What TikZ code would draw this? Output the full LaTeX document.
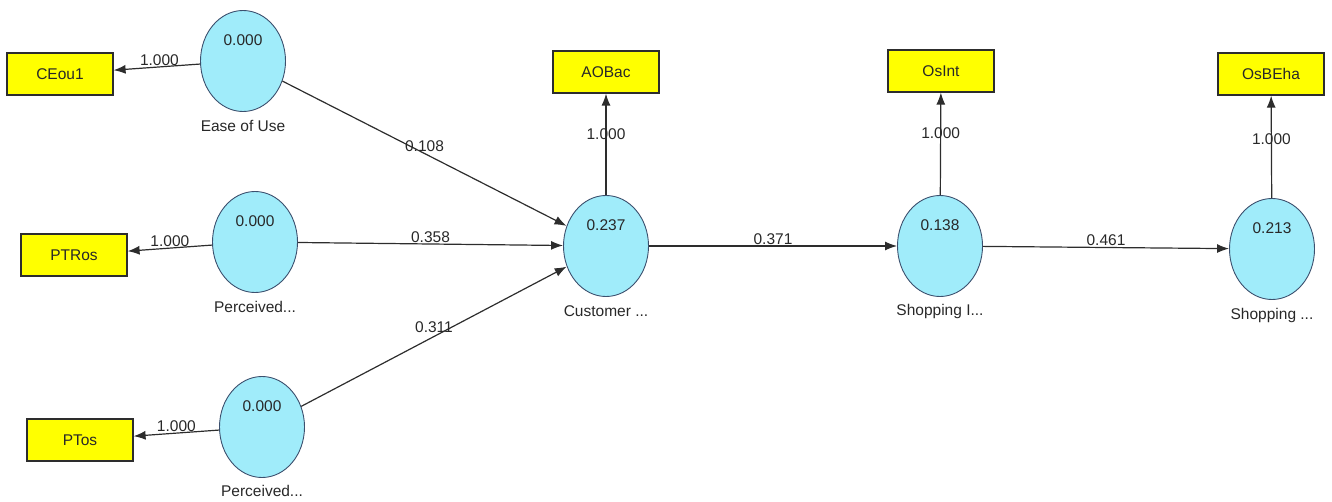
\documentclass[tikz,border=0pt]{standalone}
\usepackage{fontspec}
\setmainfont{Liberation Sans}
\usetikzlibrary{arrows.meta,shapes.geometric}
\definecolor{lvfill}{RGB}{160,236,250}
\definecolor{lvdraw}{RGB}{60,80,110}
\definecolor{mvfill}{RGB}{255,255,0}
\definecolor{edgec}{RGB}{45,45,45}
\definecolor{txtc}{RGB}{40,40,40}
\begin{document}
\begin{tikzpicture}[x=1pt,y=-1pt,
  font=\fontsize{15.5}{18}\selectfont,
  latent/.style={ellipse, draw=lvdraw, line width=0.9pt, fill=lvfill, minimum width=85pt, minimum height=101pt, inner sep=0pt},
  indic/.style={rectangle, draw=edgec, line width=1.2pt, fill=mvfill, minimum width=106pt, minimum height=42pt, inner sep=0pt, text=txtc},
  conn/.style={draw=edgec, line width=1.2pt, -{Latex[length=12pt,width=9pt]}},
  elab/.style={text=txtc, inner sep=1pt},
  vlab/.style={text=txtc, inner sep=0pt},
  nlab/.style={text=txtc, inner sep=0pt}
]
\useasboundingbox (0,0) rectangle (1332,502);
% indicators
\node[indic] (ceou1) at (60,74) {CEou1};
\node[indic] (ptros) at (74,255) {PTRos};
\node[indic] (ptos) at (80,440) {PTos};
\node[indic] (aobac) at (606,72) {AOBac};
\node[indic] (osint) at (941,71) {OsInt};
\node[indic] (osbeha) at (1271,74) {OsBEha};
% latent variables
\node[latent] (ease) at (243,61) {};
\node[latent] (perc1) at (255,242) {};
\node[latent] (perc2) at (262,427) {};
\node[latent] (cust) at (606,246) {};
\node[latent] (shopi) at (940,246) {};
\node[latent] (shop) at (1272,249) {};
% values
\node[vlab] (vease) at (243,40) {0.000};
\node[vlab] (vperc1) at (255,221) {0.000};
\node[vlab] (vperc2) at (262,406) {0.000};
\node[vlab] (vcust) at (606,225) {0.237};
\node[vlab] (vshopi) at (940,225) {0.138};
\node[vlab] (vshop) at (1272,228) {0.213};
% names
\node[nlab] (lease) at (243,126) {Ease of Use};
\node[nlab] (lperc1) at (255,307) {Perceived...};
\node[nlab] (lperc2) at (262,491) {Perceived...};
\node[nlab] (lcust) at (606,311) {Customer ...};
\node[nlab] (lshopi) at (940,311) {Shopping I...};
\node[nlab] (lshop) at (1272,315) {Shopping ...};
% measurement arrows
\draw[conn] (ease) -- node[elab, above, pos=0.47] {1.000} (ceou1);
\draw[conn] (perc1) -- node[elab, above, pos=0.5] {1.000} (ptros);
\draw[conn] (perc2) -- node[elab, above, pos=0.5] {1.000} (ptos);
\draw[conn] (cust) -- node[elab, pos=0.6] {1.000} (aobac);
\draw[conn] (shopi) -- node[elab, pos=0.6] {1.000} (osint);
\draw[conn] (shop) -- node[elab, pos=0.57] {1.000} (osbeha);
% structural arrows
\draw[conn] (ease) -- node[elab, above, pos=0.5] {0.108} (cust);
\draw[conn] (perc1) -- node[elab, above, pos=0.5] {0.358} (cust);
\draw[conn] (perc2) -- node[elab, above, pos=0.5, yshift=2pt] {0.311} (cust);
\draw[conn] (cust) -- node[elab, above, pos=0.5] {0.371} (shopi);
\draw[conn] (shopi) -- node[elab, above, pos=0.5] {0.461} (shop);
\end{tikzpicture}
\end{document}
